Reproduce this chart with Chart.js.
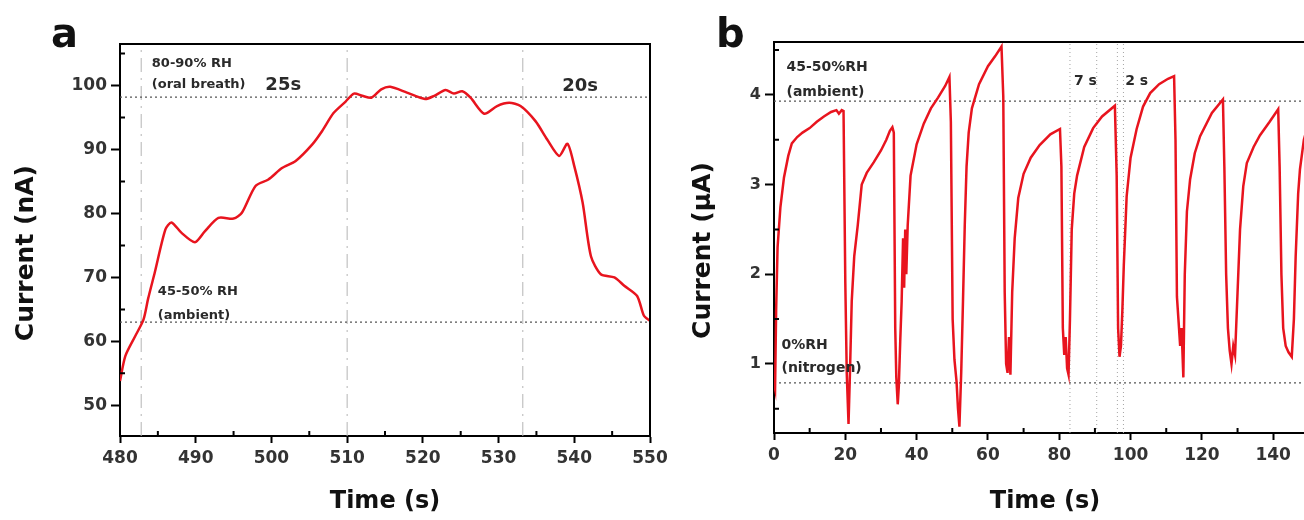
<!DOCTYPE html>
<html>
<head>
<meta charset="utf-8">
<script src="https://cdn.jsdelivr.net/npm/chart.js@4.4.0/dist/chart.umd.min.js"></script>
<style>
  html, body { margin: 0; padding: 0; background: #fff; overflow: hidden; }
  body { width: 1304px; height: 520px; position: relative; }
  .panel { position: absolute; top: 0; height: 520px; }
  #wrapA { left: 0; width: 690px; }
  #wrapB { left: 690px; width: 660px; }
  .tag { position: absolute; font-family: "DejaVu Sans", sans-serif; font-weight: bold;
         font-size: 40px; line-height: 40px; color: #111; }
</style>
</head>
<body>
<div class="panel" id="wrapA"><canvas id="chartA"></canvas></div>
<div class="panel" id="wrapB"><canvas id="chartB"></canvas></div>
<div class="tag" style="left:51px; top:13px;">a</div>
<div class="tag" style="left:716px; top:13px;">b</div>
<script>
// panel a: breath response, time (s) vs current (nA)
const timeA = [480, 480.7, 482, 483.1, 483.7, 484.6, 486, 486.8, 488.1, 489.9,
  491.2, 493, 495, 496.1, 497.9, 499.6, 501.4, 503.2, 505.4, 506.7,
  508.2, 509.8, 510.9, 512, 513.2, 514.5, 515.7, 517.9, 520.3, 521.5,
  523, 524.1, 525.2, 526.3, 528.1, 529.8, 531.4, 532.9, 534.9, 536.4,
  538, 539.1, 540, 541.1, 542.2, 543.5, 545.3, 546.6, 548.3, 549.2, 550];
const currentA = [53.8, 57.7, 60.8, 63.4, 66.6, 70.8, 77.5, 78.6, 77.0, 75.5,
  77.2, 79.3, 79.2, 80.1, 84.3, 85.3, 87.1, 88.2, 90.8, 92.9,
  95.7, 97.5, 98.75, 98.4, 98.1, 99.4, 99.8, 98.9, 97.9, 98.4,
  99.3, 98.75, 99.1, 98.1, 95.6, 96.8, 97.3, 96.8, 94.4, 91.6,
  89.0, 90.9, 87.4, 81.7, 73.3, 70.5, 70.0, 68.7, 67.1, 64.0, 63.2];
const xTicksA = [480, 490, 500, 510, 520, 530, 540, 550];
const yTicksA = [50, 60, 70, 80, 90, 100];
const xMinorA = [485, 495, 505, 515, 525, 535, 545];
const yMinorA = [55, 65, 75, 85, 95, 105];
const hLinesA = [98.2, 63.0];
const vLinesA = [482.8, 510.0, 533.2];

// panel b: nitrogen / ambient cycling, time (s) vs current (uA)
const timeB = [
  0, 0.3, 0.6, 1.0, 1.8, 2.8, 4.0, 5.0, 6.5, 8.0, 10.0, 12.0, 14.0, 16.0, 17.5, 18.2, 19.0, 19.5,
  20.0, 20.4, 20.9, 21.3, 21.8, 22.5, 23.5, 24.6, 26.0, 28.0, 30.0, 31.5, 32.5, 33.2, 33.6,
  34.0, 34.3, 34.7, 35.0, 35.4, 35.8, 36.2, 36.5, 36.8, 37.1, 37.5, 38.3, 40.0, 42.0, 44.0, 46.0, 48.0, 49.2, 49.6,
  50.1, 50.6, 51.2, 51.6, 52.0, 52.5, 53.0, 53.5, 54.0, 54.6, 55.5, 57.5, 60.0, 62.0, 63.8, 64.3,
  64.7, 65.1, 65.5, 65.9, 66.3, 66.8, 67.5, 68.5, 70.0, 72.0, 74.5, 77.5, 80.2, 80.6,
  81.0, 81.4, 81.8, 82.2, 82.6, 83.0, 83.5, 84.2, 85.0, 87.0, 89.5, 92.0, 95.6, 96.1,
  96.5, 96.9, 97.3, 97.7, 98.1, 98.9, 100.0, 101.7, 103.5, 105.5, 108.0, 110.5, 112.2, 112.6,
  113.0, 113.5, 113.9, 114.3, 114.8, 115.2, 115.8, 116.7, 118.0, 119.5, 122.8, 125.9, 126.3,
  126.8, 127.3, 127.8, 128.3, 128.8, 129.3, 130.0, 130.7, 131.6, 132.6, 134.5, 136.3, 139.0, 141.4, 141.8,
  142.3, 142.8, 143.5, 144.3, 145.2, 145.8, 146.3, 147.0, 147.5, 148.6, 150.0, 152.0];
const currentB = [
  0.78, 0.72, 1.6, 2.3, 2.75, 3.08, 3.32, 3.46, 3.53, 3.58, 3.63, 3.7, 3.76, 3.81, 3.83, 3.79, 3.83, 3.82,
  1.9, 0.9, 0.33, 0.9, 1.7, 2.2, 2.55, 3.0, 3.13, 3.25, 3.38, 3.5, 3.6, 3.64, 3.58,
  1.4, 0.85, 0.55, 0.75, 1.25, 1.7, 2.4, 1.85, 2.5, 2.0, 2.55, 3.1, 3.45, 3.68, 3.85, 3.97, 4.1, 4.2, 3.7,
  1.5, 1.05, 0.8, 0.5, 0.3, 0.9, 1.7, 2.55, 3.2, 3.58, 3.85, 4.12, 4.32, 4.43, 4.54, 3.98,
  1.8, 1.0, 0.9, 1.3, 0.88, 1.8, 2.4, 2.85, 3.12, 3.3, 3.44, 3.56, 3.62, 3.2,
  1.4, 1.1, 1.3, 0.95, 0.88, 1.5, 2.5, 2.9, 3.1, 3.42, 3.63, 3.76, 3.88, 3.1,
  1.4, 1.08, 1.2, 1.6, 2.1, 2.87, 3.3, 3.62, 3.87, 4.02, 4.12, 4.18, 4.21, 3.5,
  1.75, 1.45, 1.2, 1.4, 0.85, 2.0, 2.7, 3.06, 3.35, 3.54, 3.8, 3.95, 3.2,
  2.0, 1.4, 1.15, 1.0, 1.2, 1.1, 1.8, 2.5, 2.98, 3.24, 3.42, 3.55, 3.7, 3.84, 3.2,
  2.0, 1.4, 1.2, 1.13, 1.08, 1.5, 2.2, 2.9, 3.17, 3.5, 3.7, 3.85];
const xTicksB = [0, 20, 40, 60, 80, 100, 120, 140];
const yTicksB = [1, 2, 3, 4];
const xMinorB = [10, 30, 50, 70, 90, 110, 130, 150];
const yMinorB = [0.5, 1.5, 2.5, 3.5, 4.5];
const hLinesB = [3.93, 0.79];
const vLinesB = [83.0, 90.5, 96.3, 98.0];

// text notes, placed in data coordinates
const notesA = [
  { text: "80-90% RH", x: 484.2, y: 103.4, size: 13 },
  { text: "(oral breath)", x: 484.2, y: 100.1, size: 13 },
  { text: "25s", x: 499.2, y: 100.0, size: 18 },
  { text: "20s", x: 538.4, y: 99.9, size: 18 },
  { text: "45-50% RH", x: 485.0, y: 67.7, size: 13 },
  { text: "(ambient)", x: 485.0, y: 64.1, size: 13 },
];
const notesB = [
  { text: "45-50%RH", x: 3.5, y: 4.31, size: 14 },
  { text: "(ambient)", x: 3.5, y: 4.03, size: 14 },
  { text: "0%RH", x: 2.1, y: 1.21, size: 14 },
  { text: "(nitrogen)", x: 2.1, y: 0.95, size: 14 },
  { text: "7 s", x: 84.1, y: 4.15, size: 14 },
  { text: "2 s", x: 98.5, y: 4.15, size: 14 },
];

const FONT = '"DejaVu Sans", "Liberation Sans", Arial, sans-serif';
const RED = "#e8141e";

// frame, inward minor ticks and the text notes
const extras = {
  id: "extras",
  afterDraw(chart, args, opts) {
    const { ctx, chartArea: a, scales: { x, y } } = chart;
    ctx.save();
    ctx.strokeStyle = "#000";
    ctx.lineWidth = 2;
    ctx.beginPath();
    ctx.moveTo(a.left, a.top);
    ctx.lineTo(a.right, a.top);
    ctx.lineTo(a.right, a.bottom);
    opts.xMinor.forEach(v => {
      const px = x.getPixelForValue(v);
      ctx.moveTo(px, a.bottom);
      ctx.lineTo(px, a.bottom - 5);
    });
    opts.yMinor.forEach(v => {
      const py = y.getPixelForValue(v);
      ctx.moveTo(a.left, py);
      ctx.lineTo(a.left + 5, py);
    });
    ctx.stroke();
    ctx.fillStyle = "#2a2a2a";
    ctx.textAlign = "left";
    ctx.textBaseline = "middle";
    opts.notes.forEach(n => {
      ctx.font = "bold " + n.size + "px " + FONT;
      ctx.fillText(n.text, x.getPixelForValue(n.x), y.getPixelForValue(n.y));
    });
    ctx.restore();
  }
};

function refLines(hVals, vVals, xMin, xMax, yMin, yMax, hStyle, vStyle) {
  const sets = [];
  hVals.forEach(v => sets.push(Object.assign({
    data: [{ x: xMin, y: v }, { x: xMax, y: v }]
  }, hStyle)));
  vVals.forEach(v => sets.push(Object.assign({
    data: [{ x: v, y: yMin }, { x: v, y: yMax }]
  }, vStyle)));
  return sets;
}

function makeChart(id, cfg) {
  const curve = cfg.time.map((t, i) => ({ x: t, y: cfg.values[i] }));
  const datasets = [{
    data: curve, borderColor: RED, borderWidth: cfg.lineWidth,
    pointRadius: 0, tension: cfg.tension, order: 0
  }].concat(refLines(cfg.hLines, cfg.vLines, cfg.xMin, cfg.xMax, cfg.yMin, cfg.yMax,
    { borderColor: "#555", borderWidth: 1.2, borderDash: [2, 3], pointRadius: 0, order: 1 },
    cfg.vStyle));

  return new Chart(document.getElementById(id), {
    type: "line",
    data: { datasets },
    options: {
      responsive: true,
      maintainAspectRatio: false,
      animation: false,
      layout: { padding: cfg.padding },
      plugins: {
        legend: { display: false },
        tooltip: { enabled: false },
        extras: { xMinor: cfg.xMinor, yMinor: cfg.yMinor, notes: cfg.notes }
      },
      scales: {
        x: {
          type: "linear", min: cfg.xMin, max: cfg.xMax,
          afterBuildTicks: s => { s.ticks = cfg.xTicks.map(v => ({ value: v })); },
          afterFit: s => { s.height = cfg.xAxisHeight; },
          border: { display: true, color: "#000", width: 2 },
          grid: { drawOnChartArea: false, drawTicks: true, tickLength: 7, tickWidth: 2, tickColor: "#000" },
          ticks: { color: "#333", font: { family: FONT, size: 17, weight: "bold" }, padding: 5,
                   maxRotation: 0, autoSkip: false },
          title: { display: true, text: "Time (s)", color: "#111",
                   font: { family: FONT, size: 24, weight: "bold", lineHeight: 1 },
                   padding: { top: 0, bottom: 6 } }
        },
        y: {
          type: "linear", min: cfg.yMin, max: cfg.yMax,
          afterBuildTicks: s => { s.ticks = cfg.yTicks.map(v => ({ value: v })); },
          afterFit: s => { s.width = cfg.yAxisWidth; },
          border: { display: true, color: "#000", width: 2 },
          grid: { drawOnChartArea: false, drawTicks: true, tickLength: 9, tickWidth: 2, tickColor: "#000" },
          ticks: { color: "#333", font: { family: FONT, size: cfg.yTickSize, weight: "bold" }, padding: 4,
                   autoSkip: false },
          title: { display: true, text: cfg.yTitle, color: "#111",
                   font: { family: FONT, size: 25, weight: "bold", lineHeight: 1 },
                   padding: { top: cfg.yTitlePad, bottom: 0 } }
        }
      }
    },
    plugins: [extras]
  });
}

makeChart("chartA", {
  time: timeA, values: currentA, lineWidth: 2.5, tension: 0.25,
  xMin: 480, xMax: 550, yMin: 45.2, yMax: 106.5,
  xTicks: xTicksA, yTicks: yTicksA, xMinor: xMinorA, yMinor: yMinorA,
  hLines: hLinesA, vLines: vLinesA,
  vStyle: { borderColor: "#b4b4b4", borderWidth: 1, borderDash: [14, 6, 2, 6], pointRadius: 0, order: 2 },
  notes: notesA, yTitle: "Current (nA)   ", yTitlePad: 14, yTickSize: 17,
  padding: { top: 44, right: 40, left: 0, bottom: 0 }, xAxisHeight: 84, yAxisWidth: 120
});

makeChart("chartB", {
  time: timeB, values: currentB, lineWidth: 2.5, tension: 0,
  xMin: 0, xMax: 152, yMin: 0.23, yMax: 4.59,
  xTicks: xTicksB, yTicks: yTicksB, xMinor: xMinorB, yMinor: yMinorB,
  hLines: hLinesB, vLines: vLinesB,
  vStyle: { borderColor: "#a4a4a4", borderWidth: 1, borderDash: [1, 3], pointRadius: 0, order: 2 },
  notes: notesB, yTitle: "Current (\u03bcA)   ", yTitlePad: 1, yTickSize: 16,
  padding: { top: 42, right: 34, left: 0, bottom: 0 }, xAxisHeight: 87, yAxisWidth: 84
});
</script>
</body>
</html>
